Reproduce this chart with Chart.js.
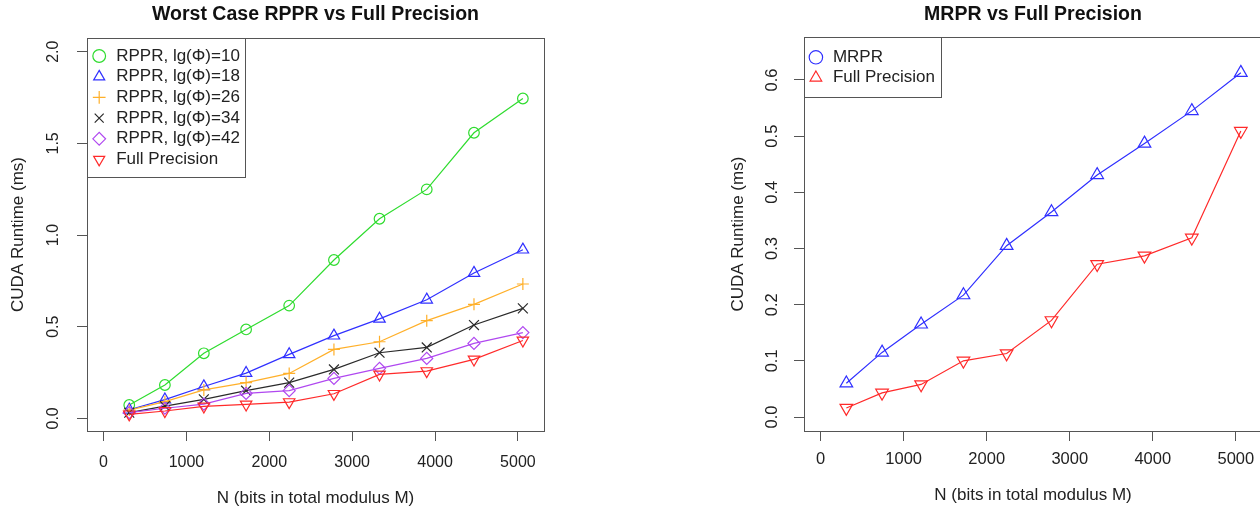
<!DOCTYPE html>
<html>
<head>
<meta charset="utf-8">
<script src="https://cdn.jsdelivr.net/npm/chart.js@4.4.1/dist/chart.umd.min.js"></script>
<style>
  html, body { margin: 0; padding: 0; background: #fff; overflow: hidden; }
  #left { position: absolute; left: 0; top: 0; }
  #right { position: absolute; left: 700px; top: 0; }
</style>
</head>
<body>
<canvas id="left" width="560" height="511"></canvas>
<canvas id="right" width="580" height="511"></canvas>
<script>
// N values (bits in total modulus M), shared by both panels
const nBits = [310, 740, 1210, 1720, 2240, 2780, 3330, 3900, 4470, 5060];
const xTicks = [0, 1000, 2000, 3000, 4000, 5000];

// left panel: worst case RPPR vs full precision
const rpprLg10 = [0.073, 0.182, 0.355, 0.485, 0.615, 0.864, 1.089, 1.249, 1.558, 1.745];
const rpprLg18 = [0.047, 0.102, 0.174, 0.247, 0.349, 0.451, 0.543, 0.647, 0.793, 0.920];
const rpprLg26 = [0.045, 0.091, 0.155, 0.195, 0.245, 0.376, 0.418, 0.533, 0.622, 0.733];
const rpprLg34 = [0.031, 0.067, 0.104, 0.151, 0.195, 0.267, 0.358, 0.387, 0.509, 0.600];
const rpprLg42 = [0.031, 0.055, 0.078, 0.136, 0.151, 0.218, 0.273, 0.327, 0.409, 0.468];
const fullPrecLeft = [0.022, 0.040, 0.065, 0.076, 0.089, 0.134, 0.240, 0.258, 0.322, 0.425];
const leftYTicks = [0, 0.5, 1.0, 1.5, 2.0];

// right panel: MRPR vs full precision
const mrpr = [0.060, 0.115, 0.165, 0.217, 0.305, 0.365, 0.431, 0.487, 0.545, 0.613];
const fullPrecRight = [0.016, 0.043, 0.058, 0.100, 0.113, 0.172, 0.272, 0.287, 0.319, 0.509];
const rightYTicks = [0, 0.1, 0.2, 0.3, 0.4, 0.5, 0.6];

Chart.defaults.font.family = '"Liberation Sans", Arial, Helvetica, sans-serif';
Chart.defaults.color = '#222';

// full box round the plot region, like R's box()
const plotBox = {
    id: 'plotBox',
    afterDatasetsDraw(chart) {
        const a = chart.chartArea;
        const ctx = chart.ctx;
        ctx.save();
        ctx.strokeStyle = '#555';
        ctx.lineWidth = 1;
        ctx.strokeRect(Math.round(a.left) + 0.5, Math.round(a.top) + 0.5,
            Math.round(a.right - a.left), Math.round(a.bottom - a.top));
        ctx.restore();
    }
};

// frame round the legend that sits inside the plot
const legendFrame = {
    id: 'legendFrame',
    afterDraw(chart, args, opts) {
        const boxes = chart.legend && chart.legend.legendHitBoxes;
        if (!boxes || !boxes.length) return;
        const a = chart.chartArea;
        let right = 0, bottom = 0;
        boxes.forEach(b => {
            right = Math.max(right, b.left + b.width);
            bottom = Math.max(bottom, b.top + b.height);
        });
        const ctx = chart.ctx;
        ctx.save();
        ctx.strokeStyle = '#555';
        ctx.lineWidth = 1;
        ctx.strokeRect(Math.round(a.left) + 0.5, Math.round(a.top) + 0.5,
            Math.round(right + opts.padRight - a.left), Math.round(bottom + opts.padBottom - a.top));
        ctx.restore();
    }
};

function series(label, values, color, shape, radius, rotation, idx) {
    return {
        label: label,
        data: values.map((v, i) => ({ x: nBits[i], y: v })),
        borderColor: color,
        backgroundColor: color,
        borderWidth: 1.2,
        pointStyle: shape,
        pointRadius: radius,
        pointHoverRadius: radius,
        pointRotation: rotation,
        pointBorderColor: color,
        pointBackgroundColor: 'rgba(0,0,0,0)',
        pointBorderWidth: 1.2,
        tension: 0,
        order: -idx
    };
}

function buildOptions(p) {
    return {
        responsive: false,
        animation: false,
        layout: { padding: { left: 0, right: p.padRight, top: 0, bottom: 0 } },
        scales: {
            x: {
                type: 'linear',
                min: -200,
                max: 5315,
                afterBuildTicks: s => { s.ticks = xTicks.map(v => ({ value: v })); },
                afterFit: s => { s.height = p.xAxisHeight; },
                border: { display: false },
                grid: { drawOnChartArea: false, drawTicks: true, tickLength: 10, color: '#555' },
                ticks: {
                    padding: p.xTickPad, maxRotation: 0, autoSkip: false,
                    font: { size: p.tickSize }, color: '#222',
                    callback: v => String(v)
                },
                title: {
                    display: true, text: 'N (bits in total modulus M)', color: '#222',
                    font: { size: 17 }, padding: { top: 0, bottom: p.xTitlePad }
                }
            },
            y: {
                type: 'linear',
                min: p.yMin,
                max: p.yMax,
                afterBuildTicks: s => { s.ticks = p.yTicks.map(v => ({ value: v })); },
                afterFit: s => { s.width = p.yAxisWidth; },
                border: { display: false },
                grid: { drawOnChartArea: false, drawTicks: true, tickLength: 10, color: '#555' },
                ticks: {
                    padding: p.yTickPad, minRotation: 90, maxRotation: 90, crossAlign: 'center',
                    font: { size: p.tickSize }, color: '#222',
                    callback: v => v.toFixed(1)
                },
                title: {
                    display: true, text: 'CUDA Runtime (ms)', color: '#222',
                    font: { size: 17 }, padding: { top: p.yTitlePad, bottom: 0 }
                }
            }
        },
        plugins: {
            title: {
                display: true, text: p.title, fullSize: false, color: '#111',
                font: { size: 19.5, weight: 'bold', lineHeight: 1.2 },
                padding: { top: 3.3, bottom: p.titleBottom }
            },
            legend: {
                position: 'chartArea',
                align: 'start',
                reverse: true,
                // a vertical legend in the chart area starts at the canvas top,
                // so an empty title pushes the items down into the plot box
                title: { display: true, text: '', padding: 0, font: { size: p.legendGap, lineHeight: 1 } },
                labels: {
                    usePointStyle: true,
                    boxHeight: p.legendMarker,
                    padding: p.legendRowPad,
                    color: '#222',
                    font: { size: 17 },
                    generateLabels: p.legendLabels
                }
            },
            legendFrame: { padRight: p.frameRight, padBottom: p.frameBottom },
            tooltip: { enabled: false }
        }
    };
}

const defaultLabels = Chart.defaults.plugins.legend.labels.generateLabels;

new Chart(document.getElementById('left'), {
    type: 'line',
    data: {
        datasets: [
            series('RPPR, lg(\u03A6)=10', rpprLg10, '#2fdc2f', 'circle', 5.3, 0, 0),
            series('RPPR, lg(\u03A6)=18', rpprLg18, '#3030ff', 'triangle', 6.6, 0, 1),
            series('RPPR, lg(\u03A6)=26', rpprLg26, '#ffb02a', 'cross', 6, 0, 2),
            series('RPPR, lg(\u03A6)=34', rpprLg34, '#2a2a2a', 'crossRot', 7, 0, 3),
            series('RPPR, lg(\u03A6)=42', rpprLg42, '#b048f0', 'rectRot', 6, 0, 4),
            series('Full Precision', fullPrecLeft, '#ff2a2a', 'triangle', 6.6, 180, 5)
        ]
    },
    options: buildOptions({
        title: 'Worst Case RPPR vs Full Precision',
        padRight: 16, xAxisHeight: 80, yAxisWidth: 87,
        yMin: -0.069, yMax: 2.075, yTicks: leftYTicks,
        tickSize: 16, xTickPad: 11.7, yTickPad: 12.6,
        xTitlePad: 2.8, yTitlePad: 8.1, titleBottom: 11.3,
        legendGap: 43.8, legendMarker: 9, legendRowPad: 3.7,
        frameRight: 5, frameBottom: 9,
        legendLabels: defaultLabels
    }),
    plugins: [plotBox, legendFrame]
});

new Chart(document.getElementById('right'), {
    type: 'line',
    data: {
        datasets: [
            series('MRPR', mrpr, '#3030ff', 'triangle', 7.3, 0, 0),
            series('Full Precision', fullPrecRight, '#ff2a2a', 'triangle', 7.3, 180, 1)
        ]
    },
    options: buildOptions({
        title: 'MRPR vs Full Precision',
        padRight: 18, xAxisHeight: 80, yAxisWidth: 104,
        yMin: -0.0249, yMax: 0.676, yTicks: rightYTicks,
        tickSize: 16.5, xTickPad: 8.5, yTickPad: 9.6,
        xTitlePad: 5.1, yTitlePad: 28.1, titleBottom: 10.6,
        legendGap: 45.4, legendMarker: 9.5, legendRowPad: 3.4,
        frameRight: 6, frameBottom: 11,
        // the legend keys in the original show a circle and an upward triangle
        legendLabels: chart => defaultLabels(chart).map(item => {
            item.pointStyle = item.datasetIndex === 0 ? 'circle' : 'triangle';
            item.rotation = 0;
            return item;
        })
    }),
    plugins: [plotBox, legendFrame]
});
</script>
</body>
</html>
